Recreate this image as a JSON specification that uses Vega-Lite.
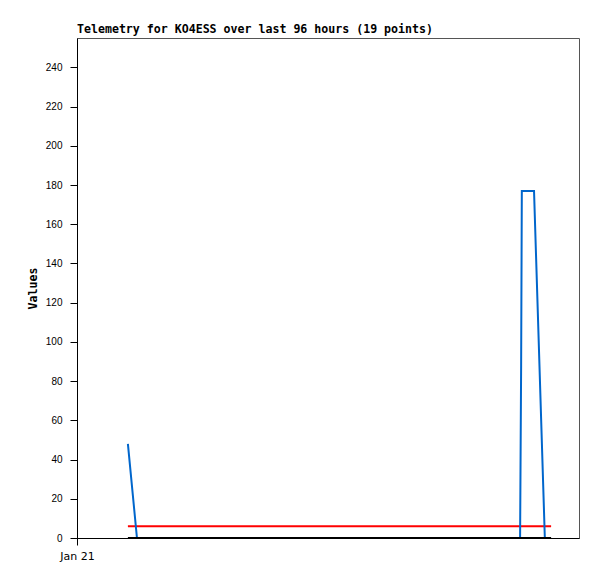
{
  "$schema": "https://vega.github.io/schema/vega-lite/v6.json",
  "width": 502,
  "height": 500,
  "autosize": {"type": "none"},
  "padding": {"left": 77, "top": 38, "right": 18, "bottom": 41},
  "background": "white",
  "title": {
    "text": "Telemetry for KO4ESS over last 96 hours (19 points)",
    "anchor": "start",
    "frame": "group",
    "font": "DejaVu Sans Mono",
    "fontSize": 11.6,
    "fontWeight": "bold",
    "color": "black",
    "offset": 2
  },
  "config": {
    "view": {"stroke": "#555555", "strokeWidth": 1},
    "axis": {
      "domainColor": "black",
      "tickColor": "black",
      "labelColor": "black",
      "grid": false,
      "labelFont": "Liberation Sans",
      "labelFontSize": 10,
      "tickSize": 7
    }
  },
  "datasets": {
    "blue": [
      {"t": "2025-01-21T02:26:00", "v": 48},
      {"t": "2025-01-21T02:52:00", "v": 0},
      {"t": "2025-01-21T08:00:00", "v": 0},
      {"t": "2025-01-21T14:00:00", "v": 0},
      {"t": "2025-01-21T21:11:00", "v": 0},
      {"t": "2025-01-21T21:14:00", "v": 88},
      {"t": "2025-01-21T21:16:00", "v": 177},
      {"t": "2025-01-21T21:51:00", "v": 177},
      {"t": "2025-01-21T22:22:00", "v": 0}
    ],
    "red": [
      {"t": "2025-01-21T02:26:00", "v": 6},
      {"t": "2025-01-21T22:40:00", "v": 6}
    ],
    "black": [
      {"t": "2025-01-21T02:26:00", "v": 0},
      {"t": "2025-01-21T22:40:00", "v": 0}
    ]
  },
  "encoding": {
    "x": {
      "field": "t",
      "type": "temporal",
      "scale": {"domain": [{"year": 2025, "month": 1, "date": 21, "hours": 0}, {"year": 2025, "month": 1, "date": 22, "hours": 0}]},
      "axis": {
        "title": null,
        "values": [{"year": 2025, "month": 1, "date": 21, "hours": 0}],
        "format": "%b %d",
        "labelFlush": false,
        "labelFont": "DejaVu Sans",
        "labelFontSize": 11,
        "labelPadding": 5
      }
    },
    "y": {
      "field": "v",
      "type": "quantitative",
      "scale": {"domain": [0, 255], "nice": false},
      "axis": {
        "title": "Values",
        "titleFont": "DejaVu Sans Mono",
        "titleFontSize": 11.6,
        "titleFontWeight": "bold",
        "titleColor": "black",
        "titlePadding": 7,
        "values": [0, 20, 40, 60, 80, 100, 120, 140, 160, 180, 200, 220, 240],
        "labelPadding": 8
      }
    }
  },
  "layer": [
    {"data": {"name": "red"}, "mark": {"type": "line", "color": "#ff0000", "strokeWidth": 2}},
    {"data": {"name": "blue"}, "mark": {"type": "line", "color": "#0066cc", "strokeWidth": 2}},
    {"data": {"name": "black"}, "mark": {"type": "line", "color": "#000000", "strokeWidth": 2}}
  ]
}
